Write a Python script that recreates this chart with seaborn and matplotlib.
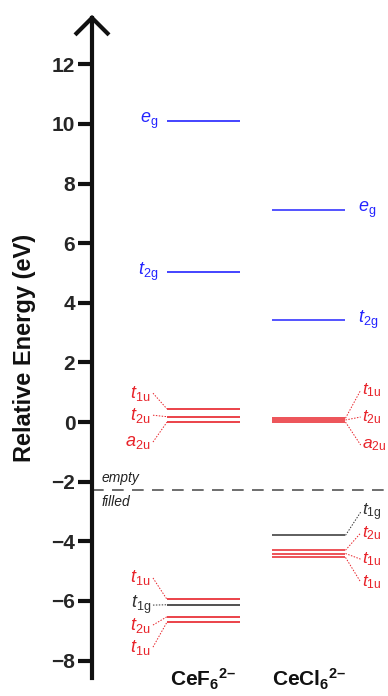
import matplotlib
matplotlib.use('Agg')
import matplotlib.pyplot as plt
import seaborn as sns
import numpy as np

sns.set_theme(style="white")
plt.rcParams['font.family'] = ['Liberation Sans', 'DejaVu Sans']
plt.rcParams['mathtext.fontset'] = 'custom'
plt.rcParams['mathtext.rm'] = 'Liberation Sans'
plt.rcParams['mathtext.it'] = 'Liberation Sans:italic'
plt.rcParams['mathtext.bf'] = 'Liberation Sans:bold'
plt.rcParams['axes.unicode_minus'] = True

# Orbital energies (eV), relative to the a2u level
complexes = ['CeF', 'CeCl']
orbitals = ['e_g', 't_2g', 't_1u', 't_2u', 'a_2u', 't_1u', 't_1g', 't_2u', 't_1u']
kinds = ['metal', 'metal', 'ligand', 'ligand', 'ligand', 'ligand', 'nonbond', 'ligand', 'ligand']
cef6_energy = [10.10, 5.05, 0.44, 0.18, 0.00, -5.95, -6.13, -6.53, -6.71]
cecl6_energy = [7.11, 3.42, 0.13, 0.07, 0.00, -3.80, -4.30, -4.41, -4.54]
# where the labels sit (spread out so they don't overlap)
cef6_label_y = [10.10, 5.05, 0.97, 0.23, -0.67, -5.23, -6.14, -6.81, -7.55]
cecl6_label_y = [7.11, 3.42, 1.07, 0.17, -0.77, -3.02, -3.72, -4.60, -5.37]
cecl6_orbitals = ['e_g', 't_2g', 't_1u', 't_2u', 'a_2u', 't_1g', 't_2u', 't_1u', 't_1u']
cecl6_kinds = ['metal', 'metal', 'ligand', 'ligand', 'ligand', 'nonbond', 'ligand', 'ligand', 'ligand']
fermi = -2.28
yticks = np.arange(-8, 13, 2)

colors = {'metal': '#2424ff', 'ligand': '#e8232a', 'nonbond': '#333333'}


def orb_label(name):
    letter, sub = name.split('_')
    return r'$\mathit{' + letter + r'}_{\mathrm{' + sub + '}}$'


fig = plt.figure(figsize=(3.88, 6.96), dpi=100)
ax = fig.add_axes([92 / 388, 0, 296 / 388, 1])
ax.set_xlim(-1.057, 1.749)
ax.set_ylim(-9.19, 14.16)

half = 0.346
# CeF6 levels, labels to the left
for e, ly, name, kind in zip(cef6_energy, cef6_label_y, orbitals, kinds):
    c = colors[kind]
    ax.hlines(e, 0 - half, 0 + half, color=c, lw=1.2)
    if kind == 'metal':
        ax.text(-0.431, ly, orb_label(name), color=c, fontsize=13, ha='right', va='center')
    else:
        ax.plot([-0.479, -half], [ly, e], color=c, lw=0.7, ls=(0, (1.5, 1.5)))
        ax.text(-0.50, ly, orb_label(name), color=c, fontsize=13, ha='right', va='center')

# CeCl6 levels, labels to the right
for e, ly, name, kind in zip(cecl6_energy, cecl6_label_y, cecl6_orbitals, cecl6_kinds):
    c = colors[kind]
    ax.hlines(e, 1 - half, 1 + half, color=c, lw=1.1)
    if kind == 'metal':
        ax.text(1.464, ly, orb_label(name), color=c, fontsize=13, ha='left', va='center')
    else:
        ax.plot([1 + half, 1.49], [e, ly], color=c, lw=0.7, ls=(0, (1.5, 1.5)))
        ax.text(1.505, ly, orb_label(name), color=c, fontsize=12.5, ha='left', va='center')

# filled / empty divider
ax.axhline(fermi, color='#555555', lw=1.2, ls=(0, (7, 5)))
ax.text(-0.962, fermi + 0.4, 'empty', style='italic', fontsize=10, color='#222222', va='center')
ax.text(-0.962, fermi - 0.4, 'filled', style='italic', fontsize=10, color='#222222', va='center')

# complex names under the levels
for i, name in enumerate(complexes):
    label = r'$\mathbf{' + name + r'}_{\mathbf{6}}{}^{\mathbf{2' + '\u2013' + '}}$'
    ax.text(i, -8.86, label, fontsize=15, ha='center', va='baseline', color='#111111')

# energy axis with arrow
sns.despine(ax=ax, left=False, bottom=True)
ax.spines['left'].set_linewidth(3)
ax.spines['left'].set_color('#111111')
ax.spines['left'].set_bounds(-8.59, 13.56)
ax.plot([-1.218, -1.057, -0.896], [12.99, 13.56, 12.99], color='#111111', lw=3,
        clip_on=False, solid_joinstyle='miter', solid_capstyle='butt')
ax.set_xticks([])
ax.set_yticks(yticks)
ax.set_yticklabels([f'{v:d}'.replace('-', '\u2212') for v in yticks], fontweight='bold', fontsize=15)
ax.tick_params(axis='y', direction='out', length=10, width=3, color='#111111', pad=2, left=True)
ax.set_ylabel('Relative Energy (eV)', fontsize=17, fontweight='bold', color='#111111')
ax.yaxis.set_label_coords(-0.19, 0.5)

plt.savefig('out.png', dpi=100)
plt.close()
